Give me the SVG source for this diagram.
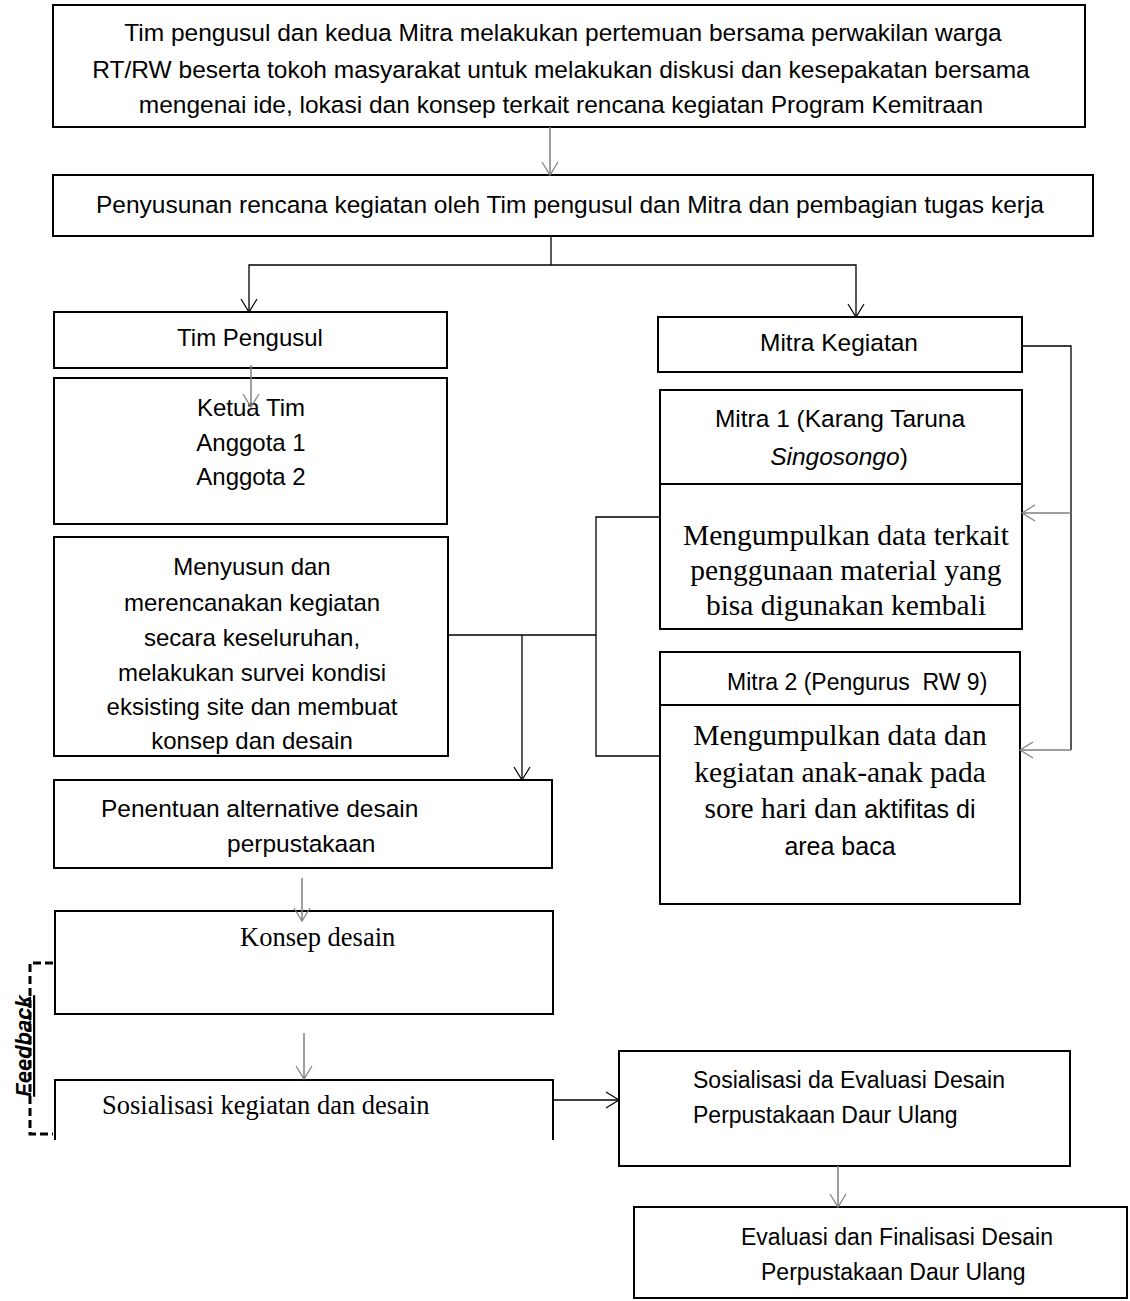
<svg xmlns="http://www.w3.org/2000/svg" width="1130" height="1301" viewBox="0 0 1130 1301">
<style>
.box{fill:#fff;stroke:#000;stroke-width:2}
.c{fill:none;stroke:#000;stroke-width:1.3}
.g{fill:none;stroke:#7f7f7f;stroke-width:1.5}
.s{font-family:"Liberation Sans",Arial,sans-serif;font-size:24.5px;fill:#000}
.s24{font-size:24px}
.s23{font-size:23px}
.t{font-family:"Liberation Serif","Times New Roman",serif;font-size:29.5px;fill:#000}
.t26{font-size:26.5px}
.m{text-anchor:middle}
</style>
<defs>
<marker id="ab" markerUnits="userSpaceOnUse" markerWidth="16" markerHeight="20" viewBox="0 0 16 20" refX="14" refY="10" orient="auto">
<path d="M1,2 L14,10 L1,18" fill="none" stroke="#000" stroke-width="1.2"/>
</marker>
<marker id="ag" markerUnits="userSpaceOnUse" markerWidth="16" markerHeight="20" viewBox="0 0 16 20" refX="14" refY="10" orient="auto">
<path d="M1,2 L14,10 L1,18" fill="none" stroke="#7f7f7f" stroke-width="1.2"/>
</marker>
</defs>

<g id="node-a">
<rect class="box" x="53" y="5" width="1032" height="122"/>
<text class="s m" x="563" y="41">Tim pengusul dan kedua Mitra melakukan pertemuan bersama perwakilan warga</text>
<text class="s m" x="561" y="78">RT/RW beserta tokoh masyarakat untuk melakukan diskusi dan kesepakatan bersama</text>
<text class="s m" x="561" y="113">mengenai ide, lokasi dan konsep terkait rencana kegiatan Program Kemitraan</text>
</g>
<g id="node-b">
<rect class="box" x="53" y="175" width="1040" height="61"/>
<text class="s m" x="570" y="213">Penyusunan rencana kegiatan oleh Tim pengusul dan Mitra dan pembagian tugas kerja</text>
</g>
<g id="node-tim">
<rect class="box" x="54" y="312" width="393" height="56"/>
<text class="s s24 m" x="250" y="346">Tim Pengusul</text>
</g>
<g id="node-ketua">
<rect class="box" x="54" y="378" width="393" height="146"/>
<text class="s s24 m" x="251" y="416">Ketua Tim</text>
<text class="s s24 m" x="251" y="451">Anggota 1</text>
<text class="s s24 m" x="251" y="485">Anggota 2</text>
</g>
<g id="node-menyusun">
<rect class="box" x="54" y="537" width="394" height="219"/>
<text class="s s24 m" x="252" y="575">Menyusun dan</text>
<text class="s s24 m" x="252" y="611">merencanakan kegiatan</text>
<text class="s s24 m" x="252" y="646">secara keseluruhan,</text>
<text class="s s24 m" x="252" y="681">melakukan survei kondisi</text>
<text class="s s24 m" x="252" y="715">eksisting site dan membuat</text>
<text class="s s24 m" x="252" y="749">konsep dan desain</text>
</g>
<g id="node-penentuan">
<rect class="box" x="54" y="780" width="498" height="88"/>
<text class="s" x="101" y="817">Penentuan alternative desain</text>
<text class="s" x="227" y="852">perpustakaan</text>
</g>
<g id="node-konsep">
<rect class="box" x="55" y="911" width="498" height="103"/>
<text class="t t26" x="240" y="946">Konsep desain</text>
</g>
<g id="node-sosialisasi">
<path class="box" d="M55,1140 V1080 H553 V1140"/>
<text class="t t26" x="102" y="1114">Sosialisasi kegiatan dan desain</text>
</g>
<g id="node-soseval">
<rect class="box" x="619" y="1051" width="451" height="115"/>
<text class="s s23" x="693" y="1088">Sosialisasi da Evaluasi Desain</text>
<text class="s s23" x="693" y="1123">Perpustakaan Daur Ulang</text>
</g>
<g id="node-final">
<rect class="box" x="634" y="1207" width="493" height="91"/>
<text class="s s23" x="741" y="1245">Evaluasi dan Finalisasi Desain</text>
<text class="s s23" x="761" y="1280">Perpustakaan Daur Ulang</text>
</g>
<g id="node-mitra">
<rect class="box" x="658" y="317" width="364" height="55"/>
<text class="s m" x="839" y="351">Mitra Kegiatan</text>
</g>
<g id="node-mitra1">
<rect class="box" x="660" y="390" width="362" height="239"/>
<line class="box" x1="660" y1="484" x2="1022" y2="484"/>
<text class="s m" x="840" y="427">Mitra 1 (Karang Taruna</text>
<text class="s m" x="839" y="465"><tspan font-style="italic">Singosongo</tspan>)</text>
<text class="t m" x="846" y="545">Mengumpulkan data terkait</text>
<text class="t m" x="846" y="580">penggunaan material yang</text>
<text class="t m" x="846" y="615">bisa digunakan kembali</text>
</g>
<g id="node-mitra2">
<rect class="box" x="660" y="652" width="360" height="252"/>
<line class="box" x1="660" y1="705" x2="1020" y2="705"/>
<text class="s s23" x="727" y="690" style="white-space:pre">Mitra 2 (Pengurus  RW 9)</text>
<text class="t m" x="840" y="745">Mengumpulkan data dan</text>
<text class="t m" x="840" y="782">kegiatan anak-anak pada</text>
<text class="t m" x="840" y="818">sore hari dan <tspan style="font-family:'Liberation Sans',Arial,sans-serif;font-size:25px">aktifitas di</tspan></text>
<text class="s m" x="840" y="855" style="font-size:25px">area baca</text>
</g>
<g id="feedback">
<path d="M53,963 H30 V1134 H53" fill="none" stroke="#000" stroke-width="3" stroke-dasharray="8 4"/>
<text transform="translate(31,1046) rotate(-90)" text-anchor="middle" style="font-family:'Liberation Sans',Arial,sans-serif;font-size:22px;font-weight:bold;font-style:italic;text-decoration:underline">Feedback</text>
</g>

<g id="connectors">
<line class="g" x1="550" y1="127" x2="550" y2="175" marker-end="url(#ag)"/>
<polyline class="c" points="551,236 551,265"/>
<polyline class="c" points="551,265 249,265 249,312" marker-end="url(#ab)"/>
<polyline class="c" points="551,265 856,265 856,317" marker-end="url(#ab)"/>
<line class="g" x1="251" y1="365" x2="251" y2="407" marker-end="url(#ag)"/>
<polyline class="c" points="448,635 596,635"/>
<polyline class="c" points="660,517 596,517 596,756 660,756"/>
<line class="c" x1="522" y1="635" x2="522" y2="780" marker-end="url(#ab)"/>
<polyline class="c" points="1022,346 1071,346 1071,750"/>
<line class="g" x1="1071" y1="513" x2="1022" y2="513" marker-end="url(#ag)"/>
<line class="g" x1="1071" y1="750" x2="1020" y2="750" marker-end="url(#ag)"/>
<line class="g" x1="302" y1="878" x2="302" y2="921" marker-end="url(#ag)"/>
<line class="g" x1="304" y1="1033" x2="304" y2="1079" marker-end="url(#ag)"/>
<line class="c" x1="553" y1="1100" x2="619" y2="1100" marker-end="url(#ab)"/>
<line class="g" x1="838" y1="1166" x2="838" y2="1207" marker-end="url(#ag)"/>
</g>
</svg>
